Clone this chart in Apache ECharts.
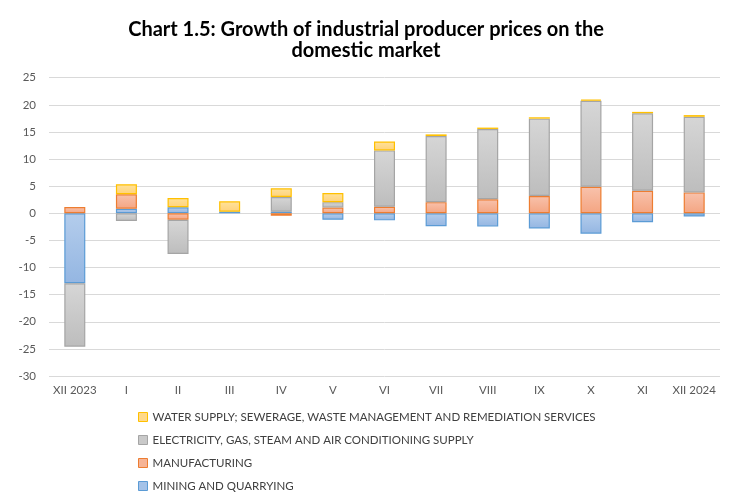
<!DOCTYPE html>
<html>
<head>
<meta charset="utf-8">
<script src="https://cdn.jsdelivr.net/npm/echarts@6/dist/echarts.min.js"></script>
<style>
  html, body { margin: 0; padding: 0; background: #fff; }
  #chart { width: 732px; height: 500px; }
</style>
</head>
<body>
<div id="chart"></div>
<script>
// categories and values
var months = ["XII 2023", "I", "II", "III", "IV", "V", "VI", "VII", "VIII", "IX", "X", "XI", "XII 2024"];
var mining = [-12.9, 0.85, 1.1, 0.3, 0.3, -1.2, -1.3, -2.4, -2.45, -2.8, -3.75, -1.65, -0.6];
var manufacturing = [1.15, 2.65, -1.2, null, -0.45, 1.05, 1.2, 2.05, 2.6, 3.2, 4.9, 4.15, 3.85];
var electricity = [-11.7, -1.4, -6.3, null, 2.7, 1.0, 10.4, 12.2, 12.95, 14.25, 15.85, 14.3, 13.95];
var water = [null, 1.85, 1.7, 1.9, 1.6, 1.7, 1.65, 0.3, 0.25, 0.25, 0.2, 0.25, 0.3];

var names = [
  "MINING AND QUARRYING",
  "MANUFACTURING",
  "ELECTRICITY, GAS, STEAM AND AIR CONDITIONING SUPPLY",
  "WATER SUPPLY; SEWERAGE, WASTE MANAGEMENT AND REMEDIATION SERVICES"
];

function grad(c1, c2) {
  return new echarts.graphic.LinearGradient(0, 0, 0, 1, [
    { offset: 0, color: c1 },
    { offset: 1, color: c2 }
  ]);
}

// fill top/bottom and border per series
var styles = [
  { top: "#b4cdec", bottom: "#94b6e2", border: "#5b9bd5" },
  { top: "#f8c2ac", bottom: "#f4a582", border: "#ed7d31" },
  { top: "#d6d6d6", bottom: "#bdbdbd", border: "#a5a5a5" },
  { top: "#ffe29c", bottom: "#ffd27a", border: "#ffc000" }
];

function makeSeries(i, data) {
  return {
    name: names[i],
    type: "bar",
    stack: "total",
    barWidth: 21,
    data: data,
    itemStyle: {
      color: grad(styles[i].top, styles[i].bottom),
      borderColor: styles[i].border,
      borderWidth: 1.2
    }
  };
}

var chart = echarts.init(document.getElementById("chart"));
chart.setOption({
  animation: false,
  title: {
    text: "Chart 1.5: Growth of industrial producer prices on the\ndomestic market",
    left: "center",
    top: 14,
    textStyle: {
      fontFamily: "Lato",
      fontWeight: "bold",
      fontSize: 20,
      lineHeight: 21,
      color: "#000"
    }
  },
  grid: {
    left: 49,
    right: 12,
    top: 77.7,
    bottom: 124
  },
  legend: {
    orient: "vertical",
    left: 138,
    top: 410,
    padding: 0,
    itemWidth: 9,
    itemHeight: 9,
    itemGap: 9,
    textStyle: {
      fontFamily: "Lato",
      fontSize: 11.5,
      lineHeight: 14,
      color: "#404040"
    },
    data: [
      { name: names[3], icon: "rect", itemStyle: { color: "#ffd98a", borderColor: "#ffc000", borderWidth: 1 } },
      { name: names[2], icon: "rect", itemStyle: { color: "#c9c9c9", borderColor: "#a5a5a5", borderWidth: 1 } },
      { name: names[1], icon: "rect", itemStyle: { color: "#f6b496", borderColor: "#ed7d31", borderWidth: 1 } },
      { name: names[0], icon: "rect", itemStyle: { color: "#a4c2e8", borderColor: "#5b9bd5", borderWidth: 1 } }
    ]
  },
  xAxis: {
    type: "category",
    data: months,
    axisLine: { show: false },
    axisTick: { show: false },
    axisLabel: {
      fontFamily: "Lato",
      fontSize: 11.5,
      color: "#595959",
      margin: 8,
      interval: 0
    }
  },
  yAxis: {
    type: "value",
    min: -30,
    max: 25,
    interval: 5,
    axisLine: { show: false },
    axisTick: { show: false },
    axisLabel: {
      fontFamily: "Lato",
      fontSize: 11.5,
      color: "#595959",
      margin: 13
    },
    splitLine: {
      lineStyle: { color: "#d9d9d9", width: 1 }
    }
  },
  series: [
    makeSeries(0, mining),
    makeSeries(1, manufacturing),
    makeSeries(2, electricity),
    makeSeries(3, water)
  ]
});
</script>
</body>
</html>
